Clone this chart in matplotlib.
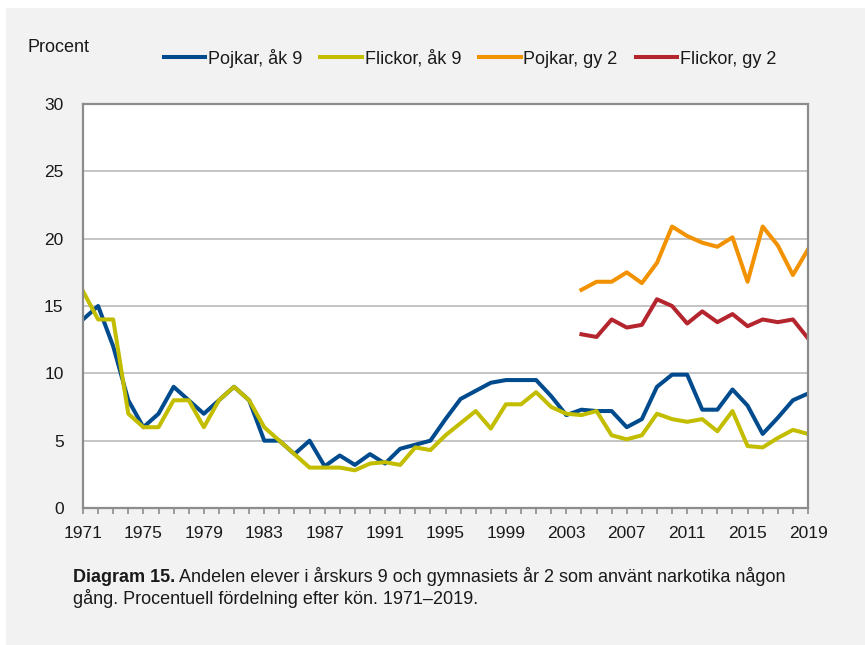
import matplotlib
matplotlib.use("Agg")
import matplotlib.pyplot as plt
from matplotlib.patches import Rectangle
from matplotlib.ticker import MultipleLocator, FixedLocator

plt.rcParams['font.family'] = ['Liberation Sans', 'DejaVu Sans']

years_ak9 = list(range(1971, 2020))
pojkar_ak9 = [14.0, 15.0, 12.0, 8.0, 6.0, 7.0, 9.0, 8.0, 7.0, 8.0,
              9.0, 8.0, 5.0, 5.0, 4.0, 5.0, 3.1, 3.9, 3.2, 4.0,
              3.3, 4.4, 4.7, 5.0, 6.6, 8.1, 8.7, 9.3, 9.5, 9.5,
              9.5, 8.3, 6.9, 7.3, 7.2, 7.2, 6.0, 6.6, 9.0, 9.9,
              9.9, 7.3, 7.3, 8.8, 7.6, 5.5, 6.7, 8.0, 8.5]
flickor_ak9 = [16.1, 14.0, 14.0, 7.0, 6.0, 6.0, 8.0, 8.0, 6.0, 8.0,
               9.0, 8.0, 6.0, 5.0, 4.0, 3.0, 3.0, 3.0, 2.8, 3.3,
               3.4, 3.2, 4.5, 4.3, 5.4, 6.3, 7.2, 5.9, 7.7, 7.7,
               8.6, 7.5, 7.0, 6.9, 7.2, 5.4, 5.1, 5.4, 7.0, 6.6,
               6.4, 6.6, 5.7, 7.2, 4.6, 4.5, 5.2, 5.8, 5.5]
years_gy2 = list(range(2004, 2020))
pojkar_gy2 = [16.2, 16.8, 16.8, 17.5, 16.7, 18.2, 20.9, 20.2, 19.7, 19.4,
              20.1, 16.8, 20.9, 19.5, 17.3, 19.2]
flickor_gy2 = [12.9, 12.7, 14.0, 13.4, 13.6, 15.5, 15.0, 13.7, 14.6, 13.8,
               14.4, 13.5, 14.0, 13.8, 14.0, 12.6]

labels = ["Pojkar, åk 9", "Flickor, åk 9", "Pojkar, gy 2", "Flickor, gy 2"]
colors = ["#004B8D", "#C3BD00", "#F39200", "#B5252E"]
xtick_labels = list(range(1971, 2020, 4))

W, H = 865, 645
fig = plt.figure(figsize=(W / 100, H / 100), dpi=100)
fig.patch.set_facecolor("white")
fig.patches.append(Rectangle((6 / W, 0), 1 - 6 / W, 1 - 8 / H, transform=fig.transFigure,
                             facecolor="#F2F2F2", edgecolor="none", zorder=-10))

ax = fig.add_axes([83 / W, 1 - 508 / H, (808 - 83) / W, (508 - 104) / H])
ax.set_facecolor("white")

lw = 2.9
ax.plot(years_ak9, pojkar_ak9, color=colors[0], lw=lw, label=labels[0])
ax.plot(years_ak9, flickor_ak9, color=colors[1], lw=lw, label=labels[1])
ax.plot(years_gy2, pojkar_gy2, color=colors[2], lw=lw, label=labels[2])
ax.plot(years_gy2, flickor_gy2, color=colors[3], lw=lw, label=labels[3])

ax.set_xlim(1971, 2019)
ax.set_ylim(0, 30)
ax.yaxis.set_major_locator(MultipleLocator(5))
ax.xaxis.set_major_locator(FixedLocator(xtick_labels))
ax.xaxis.set_minor_locator(MultipleLocator(1))
ax.grid(axis="y", color="#BFBFBF", lw=1.3)
ax.set_axisbelow(True)

for s in ax.spines.values():
    s.set_color("#8C8C8C")
    s.set_linewidth(1.6)

ax.tick_params(axis="y", length=0, pad=14, labelsize=12.5, labelcolor="#1a1a1a")
ax.tick_params(axis="x", which="both", direction="out", length=4, width=1.2,
               color="#8C8C8C", pad=9, labelsize=12.5, labelcolor="#1a1a1a")

fig.text(28 / W, 1 - 47 / H, "Procent", fontsize=13, va="center", ha="left", color="#1a1a1a")

leg = fig.legend(loc="center", bbox_to_anchor=(470 / W, 1 - 58 / H), ncol=4, frameon=False,
                 fontsize=13, handlelength=2.3, handletextpad=0.15, columnspacing=1.0,
                 borderaxespad=0)
for t in leg.get_texts():
    t.set_color("#1a1a1a")

bold = fig.text(73 / W, 1 - 577 / H, "Diagram 15.", fontsize=13, fontweight="bold",
                va="center", ha="left", color="#1a1a1a")
fig.text(73 / W, 1 - 598 / H, "gång. Procentuell fördelning efter kön. 1971–2019.", fontsize=13,
         va="center", ha="left", color="#1a1a1a")

fig.canvas.draw()
bb = bold.get_window_extent(renderer=fig.canvas.get_renderer())
fig.text((bb.x1 + 4) / W, 1 - 577 / H,
         "Andelen elever i årskurs 9 och gymnasiets år 2 som använt narkotika någon",
         fontsize=13, va="center", ha="left", color="#1a1a1a")

fig.savefig("out.png", dpi=100, facecolor=fig.get_facecolor())
